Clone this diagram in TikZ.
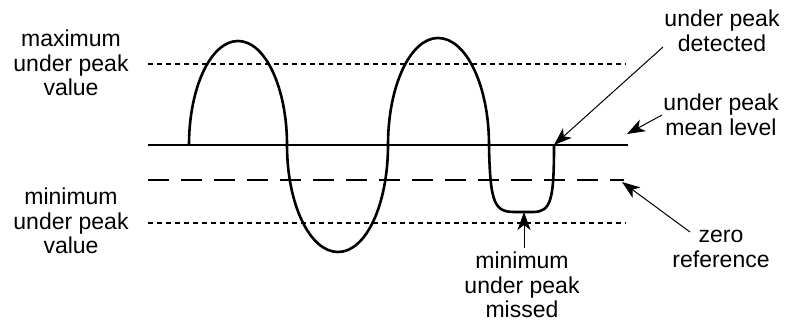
\documentclass[tikz,border=0pt]{standalone}
\usepackage{fontspec}
\setmainfont{Liberation Sans}
\usetikzlibrary{arrows.meta, positioning}

\begin{document}
\begin{tikzpicture}[
    x=1pt, y=-1pt,
    lbl/.style={align=center, inner sep=0pt, font=\fontsize{23}{24.5}\selectfont},
    level/.style={line width=1.1pt},
    bound/.style={line width=2.4pt, dash pattern=on 5pt off 4pt},
    zeroline/.style={line width=1.3pt, dash pattern=on 21pt off 12pt},
    wave/.style={line width=2.6pt},
    arrow/.style={-{Stealth[length=18pt, width=13pt, inset=5pt]}, line width=1pt}
]
\useasboundingbox (0,0) rectangle (791,321);

\draw [bound] (148,64) -- (626,64);
\draw [level] (148,145) -- (628,145);
\draw [zeroline] (148,180) -- (624,180);
\draw [bound] (148,223) -- (626,223);

\draw [wave] (189,145) .. controls (189,87.6) and (210.9,41) .. (238,41)
    .. controls (265.1,41) and (287,87.6) .. (287,145)
    .. controls (287,204.1) and (309.8,252) .. (338,252)
    .. controls (366.2,252) and (388,204.1) .. (388,145)
    .. controls (388,85.9) and (410.4,38) .. (438,38)
    .. controls (466.2,38) and (489,85.9) .. (489,145)
    .. controls (490,205) and (495,212) .. (515,212) -- (533,212)
    .. controls (551,212) and (554,200) .. (554,145);

\node (maxlbl) [lbl] at (71,63) {maximum\\under peak\\value};
\node (minlbl) [lbl] at (71,221) {minimum\\under peak\\value};
\node (detlbl) [lbl] at (722,31) {under peak\\detected};
\node (meanlbl) [lbl] at (721,115) {under peak\\mean level};
\node (zerolbl) [lbl] at (721,249) {zero\\reference};
\node (misslbl) [lbl] at (522,285) {minimum\\under peak\\missed};

\coordinate (detfrom) at (663,47);
\coordinate (dettip) at (554,145);
\coordinate (meanfrom) at (662,115);
\coordinate (meantip) at (627,134);
\coordinate (zerofrom) at (690,232);
\coordinate (zerotip) at (622,182);
\coordinate (missfrom) at (524,248);
\coordinate (misstip) at (524,212);

\draw [arrow] (detfrom) -- (dettip);
\draw [arrow] (meanfrom) -- (meantip);
\draw [arrow] (zerofrom) -- (zerotip);
\draw [arrow] (missfrom) -- (misstip);

\end{tikzpicture}
\end{document}
